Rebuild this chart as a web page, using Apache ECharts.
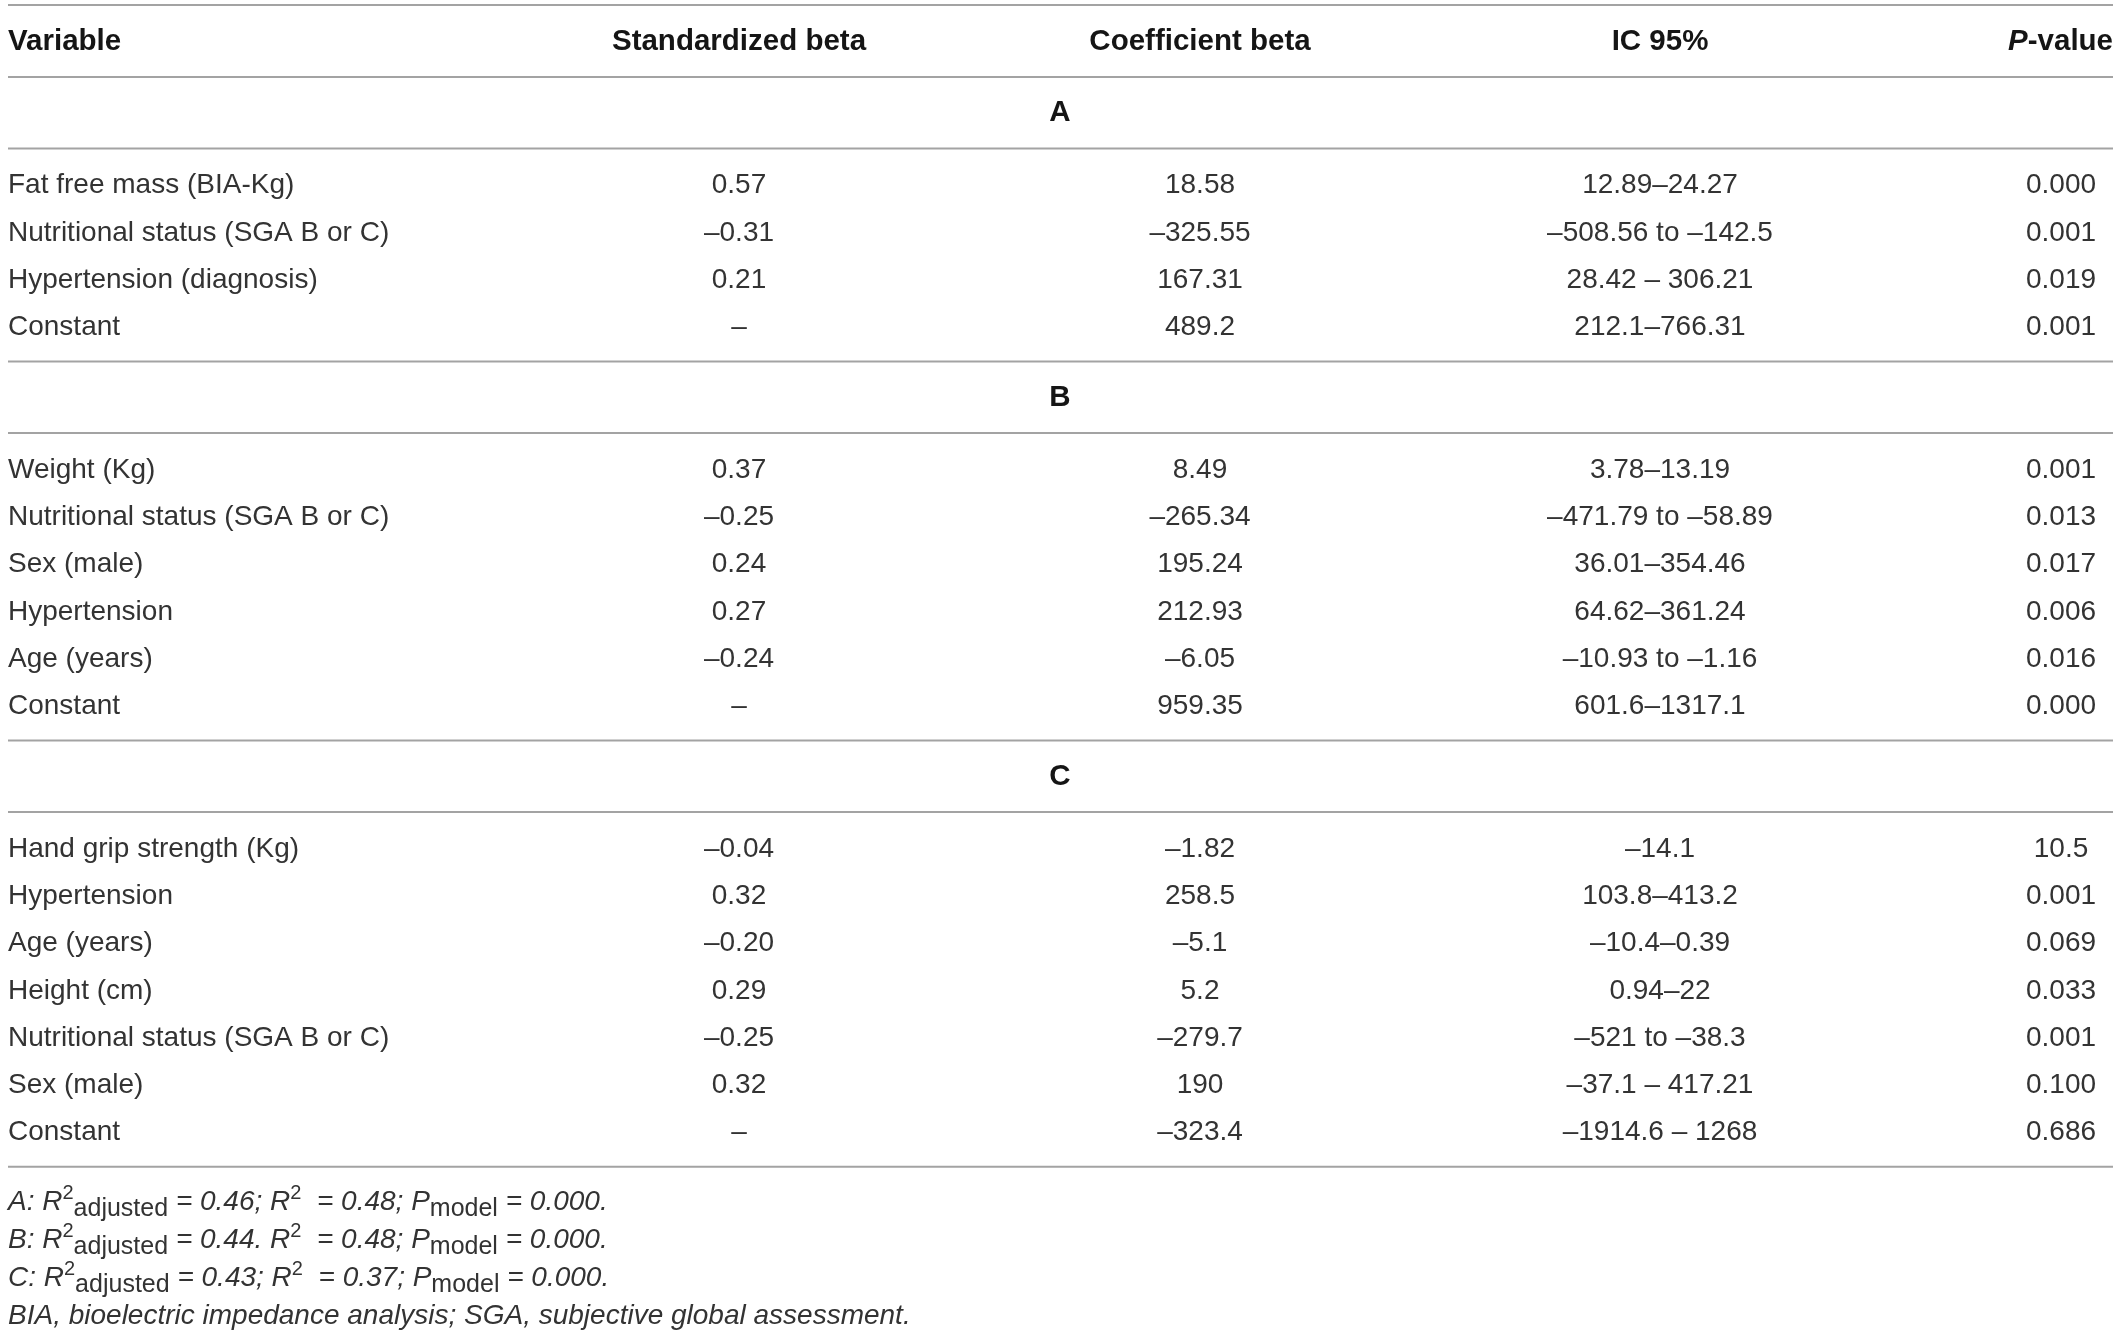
<!DOCTYPE html>
<html>
<head>
<meta charset="utf-8">
<script src="https://cdn.jsdelivr.net/npm/echarts@6/dist/echarts.min.js"></script>
<style>
    html, body {margin: 0; padding: 0; background: #fff;}
    #table {width: 2120px; height: 1333px;}
</style>
</head>
<body>
<div id="table"></div>
<script>
// table contents
var headers = ['Variable', 'Standardized beta', 'Coefficient beta', 'IC 95%', 'P-value'];
var sections = ['A', 'B', 'C'];

var varsA = ['Fat free mass (BIA-Kg)', 'Nutritional status (SGA B or C)', 'Hypertension (diagnosis)', 'Constant'];
var stdA = ['0.57', '–0.31', '0.21', '–'];
var coefA = ['18.58', '–325.55', '167.31', '489.2'];
var ciA = ['12.89–24.27', '–508.56 to –142.5', '28.42 – 306.21', '212.1–766.31'];
var pA = ['0.000', '0.001', '0.019', '0.001'];

var varsB = ['Weight (Kg)', 'Nutritional status (SGA B or C)', 'Sex (male)', 'Hypertension', 'Age (years)', 'Constant'];
var stdB = ['0.37', '–0.25', '0.24', '0.27', '–0.24', '–'];
var coefB = ['8.49', '–265.34', '195.24', '212.93', '–6.05', '959.35'];
var ciB = ['3.78–13.19', '–471.79 to –58.89', '36.01–354.46', '64.62–361.24', '–10.93 to –1.16', '601.6–1317.1'];
var pB = ['0.001', '0.013', '0.017', '0.006', '0.016', '0.000'];

var varsC = ['Hand grip strength (Kg)', 'Hypertension', 'Age (years)', 'Height (cm)', 'Nutritional status (SGA B or C)', 'Sex (male)', 'Constant'];
var stdC = ['–0.04', '0.32', '–0.20', '0.29', '–0.25', '0.32', '–'];
var coefC = ['–1.82', '258.5', '–5.1', '5.2', '–279.7', '190', '–323.4'];
var ciC = ['–14.1', '103.8–413.2', '–10.4–0.39', '0.94–22', '–521 to –38.3', '–37.1 – 417.21', '–1914.6 – 1268'];
var pC = ['10.5', '0.001', '0.069', '0.033', '0.001', '0.100', '0.686'];

// footnote stats per model
var r2adj = ['0.46', '0.44', '0.43'];
var r2 = ['0.48', '0.48', '0.37'];
var pModel = ['0.000', '0.000', '0.000'];
var r2sep = [';', '.', ';'];
var abbrevNote = 'BIA, bioelectric impedance analysis; SGA, subjective global assessment.';

var sectionRows = [
    [varsA, stdA, coefA, ciA, pA],
    [varsB, stdB, coefB, ciB, pB],
    [varsC, stdC, coefC, ciC, pC]
];

// layout
var FONT = '"Helvetica Neue", Helvetica, "Liberation Sans", Arial, sans-serif';
var TEXT_COLOR = '#333';
var HEAD_COLOR = '#151515';
var LINE_COLOR = '#a3a3a3';
var colX = [8, 739, 1200, 1660, 2061];
var colAlign = ['left', 'center', 'center', 'center', 'center'];
var lineLeft = 8, lineRight = 2113;
var rowH = 47.3;
var HEAD_SIZE = 29.5;

var elements = [];

function hline(y) {
    elements.push({
        type: 'line',
        shape: {x1: lineLeft, y1: y, x2: lineRight, y2: y},
        style: {stroke: LINE_COLOR, lineWidth: 2}
    });
}

function cell(x, y, txt, align, extra) {
    var st = {
        text: txt,
        x: 0, y: 0,
        fill: TEXT_COLOR,
        fontFamily: FONT,
        fontSize: 28,
        align: align,
        verticalAlign: 'middle'
    };
    for (var k in extra || {}) st[k] = extra[k];
    elements.push({type: 'text', x: x, y: y, style: st});
}

// header
var y = 5;
hline(y);
headers.forEach(function (h, i) {
    if (h === 'P-value') {
        cell(lineRight, 42, '{it|P}{b|-value}', 'right', {
            rich: {
                it: {fontFamily: FONT, fontSize: HEAD_SIZE, fontWeight: 'bold', fontStyle: 'italic', fill: HEAD_COLOR},
                b: {fontFamily: FONT, fontSize: HEAD_SIZE, fontWeight: 'bold', fill: HEAD_COLOR}
            }
        });
    } else {
        cell(colX[i], 42, h, colAlign[i], {fontWeight: 'bold', fontSize: HEAD_SIZE, fill: HEAD_COLOR});
    }
});
y = 77;
hline(y);

sections.forEach(function (s, si) {
    cell(1060, y + 36, s, 'center', {fontWeight: 'bold', fontSize: HEAD_SIZE, fill: HEAD_COLOR});
    y += 71.5;
    hline(y);
    var cols = sectionRows[si];
    var n = cols[0].length;
    for (var r = 0; r < n; r++) {
        var ry = y + 37 + r * rowH;
        for (var c = 0; c < cols.length; c++) {
            cell(colX[c], ry, cols[c][r], colAlign[c]);
        }
    }
    y = y + 37 + (n - 1) * rowH + 34;
    hline(y);
});

// footnotes
var footRich = {
    i: {fontFamily: FONT, fontSize: 28, fontStyle: 'italic', fill: TEXT_COLOR, lineHeight: 38, verticalAlign: 'middle'},
    sup: {fontFamily: FONT, fontSize: 20, fill: TEXT_COLOR, lineHeight: 20, verticalAlign: 'top'},
    sub: {fontFamily: FONT, fontSize: 25, fill: TEXT_COLOR, lineHeight: 24, verticalAlign: 'bottom'}
};
var fy = y + 36;
sections.forEach(function (s, si) {
    var txt = '{i|' + s + ': R}{sup|2}{sub|adjusted}{i| = ' + r2adj[si] + r2sep[si] + ' R}{sup|2}{i|  = '
        + r2[si] + '; P}{sub|model}{i| = ' + pModel[si] + '.}';
    cell(colX[0], fy + si * 38, txt, 'left', {rich: footRich});
});
cell(colX[0], fy + 3 * 38, '{i|' + abbrevNote + '}', 'left', {rich: footRich});

var myChart = echarts.init(document.getElementById('table'));
myChart.setOption({
    backgroundColor: '#fff',
    animation: false,
    graphic: {elements: elements}
});
</script>
</body>
</html>
